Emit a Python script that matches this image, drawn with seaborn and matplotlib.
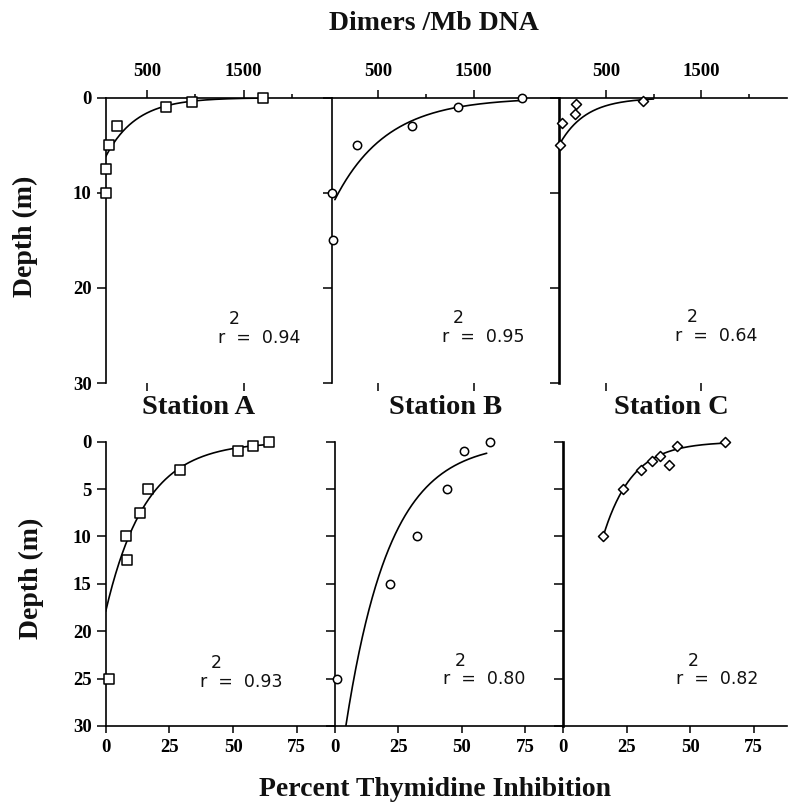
import numpy as np
import pandas as pd
import matplotlib
matplotlib.use("Agg")
import matplotlib.pyplot as plt
import seaborn as sns
from matplotlib.ticker import FixedLocator, NullFormatter
from matplotlib.font_manager import FontProperties

sns.set_theme(style="white")
plt.rcParams["font.family"] = ["DejaVu Sans"]
SERIF = ["Liberation Serif", "DejaVu Serif"]

# ---- Dimers / Mb DNA profiles (top row) ----
dimers_a = [1700, 970, 700, 186, 107, 75, 76]
dimers_a_depth = [0, 0.5, 1, 3, 5, 7.5, 10]
dimers_b = [2003, 1334, 860, 285, 25, 30]
dimers_b_depth = [0, 1, 3, 5, 10, 15]
dimers_c = [893, 181, 174, 34, 16]
dimers_c_depth = [0.35, 0.7, 1.7, 2.7, 5.0]

# ---- Percent thymidine inhibition profiles (bottom row) ----
pti_a = [64, 58, 52, 29, 16.5, 13.5, 8, 8.2, 1.4]
pti_a_depth = [0, 0.5, 1, 3, 5, 7.5, 10, 12.5, 25]
pti_b = [61, 51, 44, 32.5, 21.7, 0.7]
pti_b_depth = [0, 1, 5, 10, 15, 25]
pti_c = [63.7, 44.9, 41.7, 38.1, 34.8, 30.6, 23.6, 15.7]
pti_c_depth = [0, 0.5, 2.5, 1.5, 2, 3, 5, 10]

stations = ["Station A", "Station B", "Station C"]
r2_dimers = ["0.94", "0.95", "0.64"]
r2_pti = ["0.93", "0.80", "0.82"]

# exponential fits: depth = z0 * exp(-k * x), drawn over [x_start, x_end]
fit_dimers = [(7.78, 0.00316, 72, 1700), (11.76, 0.001847, 50, 2003), (5.08, 0.00359, 16, 1000)]
fit_pti = [(17.9, 0.0642, 0, 65), (38.4, 0.0577, 4.3, 59.8), (39.6, 0.0877, 15.7, 64)]

W, H = 788, 806
fig = plt.figure(figsize=(W / 100, H / 100), dpi=100)


def rect(l, t, w, h):
    return [l / W, 1 - (t + h) / H, w / W, h / H]


top_rects = [rect(105.7, 97.7, 226.3, 285.3), rect(332, 97.7, 227, 285.3), rect(559, 97.7, 228, 285.3)]
bot_rects = [rect(105.7, 441.7, 229.3, 284.3), rect(335, 441.7, 228.3, 284.3), rect(563.3, 441.7, 223.7, 284.3)]
top_xlim = [(72, 2415), (20, 2392), (5, 2405)]
bot_xlim = [(0, 90), (0, 90), (0, 88.1)]

markers = ["s", "o", "D"]
msize = [42, 36, 26]
spine_w = [1.2, 1.2, 1.9]

tick_font = FontProperties(family=SERIF, weight="bold", size=13.5)


def draw_panel(ax, x, z, fit, marker, ms, xlim, ylim):
    z0, k, xs, xe = fit
    xf = np.linspace(xs, xe, 300)
    curve = pd.DataFrame({"x": xf, "depth": z0 * np.exp(-k * xf)})
    sns.lineplot(data=curve, x="x", y="depth", ax=ax, color="black", lw=1.2,
                 estimator=None, sort=False, zorder=2)
    pts = pd.DataFrame({"x": x, "depth": z})
    sns.scatterplot(data=pts, x="x", y="depth", ax=ax, marker=marker, s=ms,
                    facecolor="white", edgecolor="black", linewidth=1.1,
                    zorder=3, clip_on=False)
    ax.set_xlim(*xlim)
    ax.set_ylim(*ylim)
    ax.set_xlabel("")
    ax.set_ylabel("")
    ax.set_facecolor("white")


def r2_label(ax, fx, fy, val):
    ax.text(fx, fy, "r  =  " + val, transform=ax.transAxes, ha="left", va="center",
            fontsize=12.5, family="DejaVu Sans", color="#111111")
    ax.text(fx + 0.074, fy + 0.066, "2", transform=ax.transAxes, ha="center", va="center",
            fontsize=12.5, family="DejaVu Sans", color="#111111")


top_data = [(dimers_a, dimers_a_depth), (dimers_b, dimers_b_depth), (dimers_c, dimers_c_depth)]
bot_data = [(pti_a, pti_a_depth), (pti_b, pti_b_depth), (pti_c, pti_c_depth)]
top_r2_pos = [(0.496, 0.159), (0.483, 0.161), (0.509, 0.165)]
bot_r2_pos = [(0.410, 0.156), (0.474, 0.164), (0.506, 0.164)]

for i in range(3):
    # top row: dimer concentration, x axis along the top
    ax = fig.add_axes(top_rects[i])
    draw_panel(ax, *top_data[i], fit_dimers[i], markers[i], msize[i], top_xlim[i], (30, 0))
    for s in ["right", "bottom"]:
        ax.spines[s].set_visible(False)
    for s in ["top", "left"]:
        ax.spines[s].set_color("black")
        ax.spines[s].set_linewidth(1.2)
    ax.spines["left"].set_linewidth(spine_w[i])
    ax.xaxis.tick_top()
    ax.xaxis.set_major_locator(FixedLocator([500, 1500]))
    ax.xaxis.set_minor_locator(FixedLocator([1000, 2000]))
    ax.xaxis.set_minor_formatter(NullFormatter())
    ax.tick_params(axis="x", which="major", direction="out", length=6, width=1.1,
                   pad=6.5, colors="black", top=True, bottom=True,
                   labeltop=True, labelbottom=False)
    ax.tick_params(axis="x", which="minor", direction="out", length=3, width=1.1,
                   top=True, bottom=False, colors="black")
    ax.yaxis.set_major_locator(FixedLocator([0, 10, 20, 30]))
    ax.tick_params(axis="y", direction="out", length=6.5, width=1.1, pad=3.6,
                   left=True, colors="black", labelleft=(i == 0))
    for lab in ax.get_xticklabels() + ax.get_yticklabels():
        lab.set_fontproperties(tick_font)
    r2_label(ax, *top_r2_pos[i], r2_dimers[i])

    # bottom row: percent thymidine inhibition
    ax = fig.add_axes(bot_rects[i])
    draw_panel(ax, *bot_data[i], fit_pti[i], markers[i], msize[i], bot_xlim[i], (30, 0))
    for s in ["right", "top"]:
        ax.spines[s].set_visible(False)
    for s in ["bottom", "left"]:
        ax.spines[s].set_color("black")
        ax.spines[s].set_linewidth(1.2)
    ax.spines["left"].set_linewidth(spine_w[i])
    ax.xaxis.set_major_locator(FixedLocator([0, 25, 50, 75]))
    ax.tick_params(axis="x", direction="out", length=5, width=1.1, pad=4.0,
                   bottom=True, colors="black")
    ax.yaxis.set_major_locator(FixedLocator([0, 5, 10, 15, 20, 25, 30]))
    ax.tick_params(axis="y", direction="out", length=6.5, width=1.1, pad=3.6,
                   left=True, colors="black", labelleft=(i == 0))
    for lab in ax.get_xticklabels() + ax.get_yticklabels():
        lab.set_fontproperties(tick_font)
    r2_label(ax, *bot_r2_pos[i], r2_pti[i])

label_font = dict(family=SERIF, weight="bold", color="#111111")
fig.text(433.5 / W, 1 - 24 / H, "Dimers /Mb DNA", ha="center", va="center", fontsize=20, **label_font)
for cx, name in zip([199, 445.5, 671.7], stations):
    fig.text(cx / W, 1 - 407 / H, name, ha="center", va="center", fontsize=20.5, **label_font)
fig.text(25 / W, 1 - 236.5 / H, "Depth (m)", rotation=90, ha="center", va="center", fontsize=20, **label_font)
fig.text(31.7 / W, 1 - 578 / H, "Depth (m)", rotation=90, ha="center", va="center", fontsize=20, **label_font)
fig.text(435 / W, 1 - 790 / H, "Percent Thymidine Inhibition", ha="center", va="center", fontsize=20, **label_font)

fig.savefig("out.png", dpi=100, facecolor="white")
